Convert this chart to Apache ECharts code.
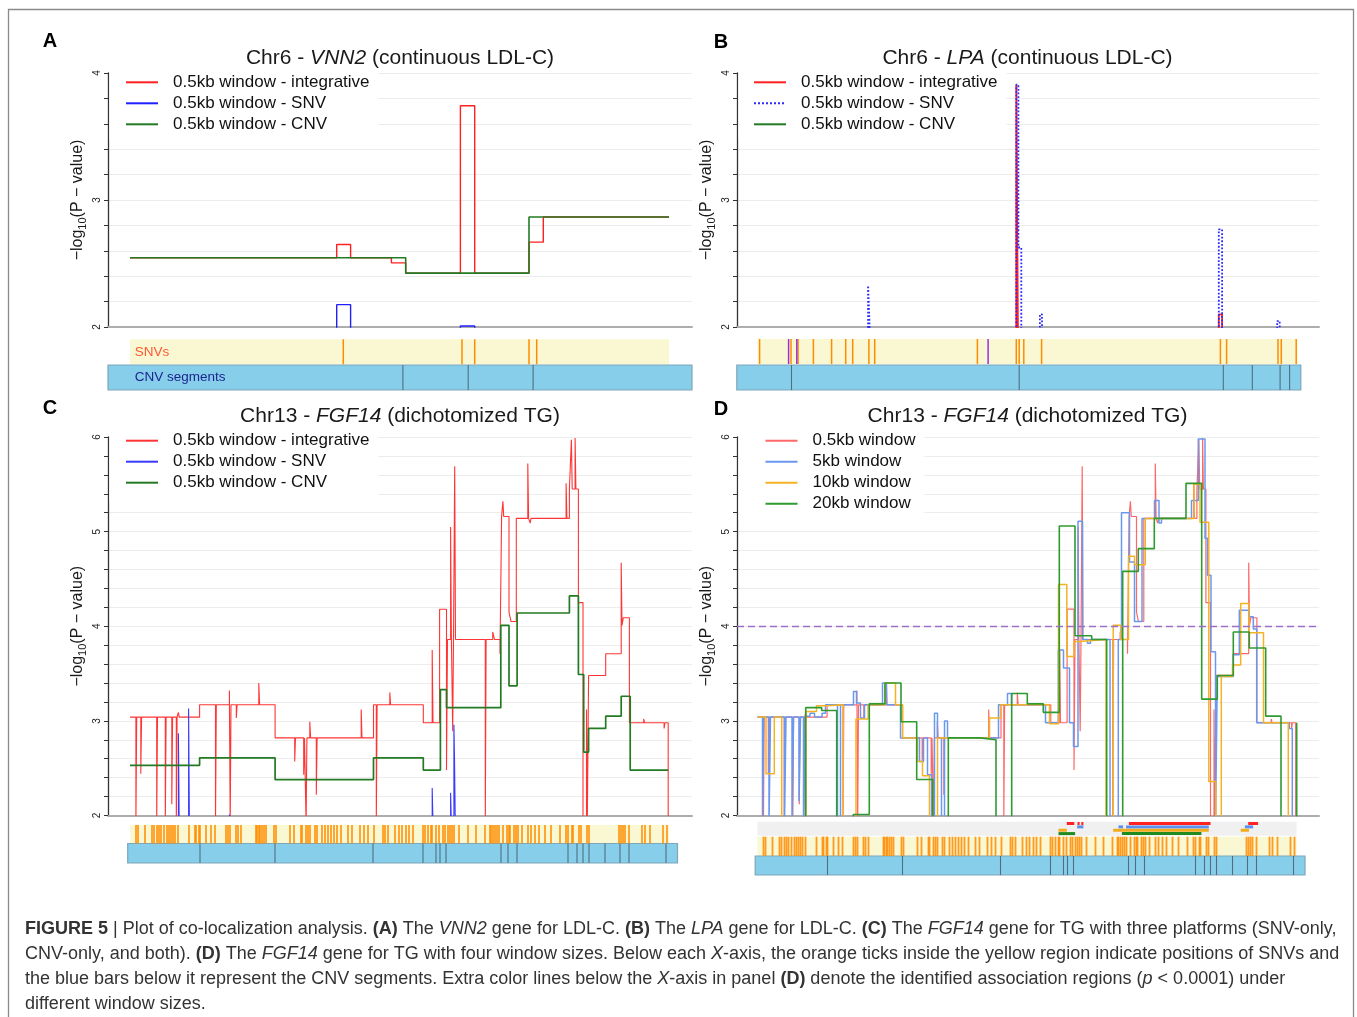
<!DOCTYPE html>
<html><head><meta charset="utf-8">
<script src="https://cdn.jsdelivr.net/npm/echarts@6/dist/echarts.min.js"></script>
<style>html,body{margin:0;padding:0;background:#fff}#c{width:1357px;height:1017px}</style>
</head><body><div id="c"></div>
<script>
// value used for points that fall below the plotted range (-log10 p < 2); clipped by the grid
const OFF = 1.9;

// ---------- Panel A: Chr6 - VNN2 (positions relative to SNV track start) ----------
const aIntegrative = [[0,2.545],[206.7,2.65],[220.6,2.545],[261.4,2.505],[275.7,2.424],[330.4,3.742],[344.7,2.424],[399,2.668],[413.3,2.866],[539,2.866]];
const aSNV = [[0,OFF],[206.7,2.176],[220.6,OFF],[330.4,2.008],[344.7,OFF],[539,OFF]];
const aCNV = [[0,2.545],[275.7,2.424],[399,2.866],[539,2.866]];
const snvA = [213.3, 332, 344.7, 399, 406.7];
const cnvBreaksA = [272.9, 338.2, 403.1];
const snvSpanA = [0, 539], cnvSpanA = [-22, 562];

// ---------- Panel B: Chr6 - LPA ----------
const bIntegrative = [[0,OFF],[258.8,3.908],[260.5,OFF],[461.3,2.10],[464.6,OFF],[540,OFF]];
const bSNV = [[0,OFF],[110.6,2.326],[112.6,OFF],[258.8,3.908],[260.9,2.626],[263.8,OFF],[282.4,2.10],[284.5,OFF],[461.3,2.768],[464.6,OFF],[519.7,2.047],[522.2,OFF],[540,OFF]];
const bCNV = [];
const snvB = [2.1, 33.5, 40.6, 55.9, 74.1, 88.2, 95.2, 111.4, 117.2, 219.9, 258.8, 261.7, 266.3, 284.1, 462.9, 469.1, 520.5, 523.8, 538.7];
const snvBPurple = [31.1, 39.3, 230.6];
const cnvBreaksB = [34, 261.7, 465.8, 494.8, 522.6, 532.1];
const snvSpanB = [0, 540], cnvSpanB = [-20.7, 543.3];

// ---------- Panels C & D: Chr13 - FGF14 ----------
const cIntegrative = [
 [0,3.04],[5.9,OFF],[6.7,3.04],[10.8,2.44],[11.6,3.04],[26.7,OFF],[27.5,3.04],[35.3,OFF],[36.1,3.04],[41.8,2.12],[42.6,3.04],[46.3,OFF],[47.1,3.04],[48.4,3.09],[49.2,3.04],
 [69.6,3.17],[85.5,OFF],[86.3,3.17],[99.4,3.32],[100.2,OFF],[101,3.17],[106.3,3.03],[107.1,3.17],[128.8,3.40],[129.6,3.17],
 [145.1,2.82],[164.7,2.57],[165.5,2.82],[173.7,2.43],[174.5,2.82],[176.1,OFF],[176.9,2.82],[179.8,2.99],[180.6,2.82],[186.3,2.22],[187.1,2.82],[231.2,3.12],[232,2.82],
 [243.5,3.17],[246.3,OFF],[247.1,3.17],[259.8,3.30],[260.6,3.17],
 [293.3,2.98],[302.2,3.75],[303,2.98],[309.6,4.18],[316.5,2.48],[317.5,3.86],[320.6,5.05],[321.4,3.86],[322.7,2.89],[323.5,3.86],[324.7,5.69],[325.5,3.86],
 [355.3,OFF],[356.1,3.86],[362.7,3.94],[364.5,3.86],[370,3.71],[371.6,5.16],[372.9,5.32],[373.7,5.16],[379,4.15],[381,4.05],[386.3,5.14],
 [397.8,5.72],[398.6,5.14],[400.2,5.09],[401,5.14],[436.1,5.51],[436.9,5.14],[439.4,5.45],[441.4,5.97],[442.2,5.45],[445.1,5.99],[445.9,5.45],
 [448.4,4.25],[453,OFF],[456.5,3.12],[457.3,OFF],[458.6,3.48],[475.7,3.71],[491.2,4.67],[492,4.01],[493.3,4.09],[499.4,2.98],[513.7,3.02],[514.5,2.98],[534.1,2.92],[534.9,2.98],[538.2,OFF]
];
const cSNV = [[0,OFF],[48.4,2.87],[49.2,OFF],[58.6,3.13],[59.4,OFF],[99.4,2.01],[100.6,OFF],[302.2,2.29],[303,OFF],[320.6,2.24],[321.4,OFF],[323.9,2.96],[324.5,2.61],[325.3,OFF],[538.2,OFF]];
const cCNV = [[0,2.53],[69.6,2.61],[145.1,2.38],[243.5,2.61],[293.3,2.48],[310.4,3.33],[316.5,3.14],[370.8,4.01],[379,3.37],[387.1,4.14],[439.4,4.32],[448.4,3.49],[453.7,2.67],[458.6,2.92],[475.7,3.05],[491.2,3.26],[500.2,2.48],[538.2,2.48]];

const dWin05 = cIntegrative;
const dWin5 = [[0,3.04],[5,OFF],[6,3.04],[11.5,OFF],[13,3.04],[27,OFF],[28.5,3.04],[34.5,OFF],[36,3.04],[41.5,2.15],[43,3.04],[46,OFF],[48,3.05],[52.5,3.08],[57,3.04],[64.5,3.08],[68,3.17],[80,OFF],[83,3.17],[96,3.31],[99,3.19],[103,3.03],[107,3.17],[125,3.40],[129,3.17],[143,2.82],[162,2.57],[166,2.82],[170,2.43],[174,OFF],[177,3.08],[180,2.82],[184,OFF],[187,3.00],[190,2.82],[241,3.17],[250,3.29],[254,3.17],[288,2.98],[300.8,3.75],[306,3.56],[312,2.98],[316,2.73],[320.5,5.11],[325,3.86],[330,3.82],[333,3.86],[352.5,OFF],[360.8,3.86],[364,5.2],[372,4.68],[377,4.05],[384.5,5.14],[397,5.33],[401.5,5.09],[404,5.14],[434,5.33],[440.8,5.98],[447.5,4.93],[450,4.54],[453.5,3.73],[458,OFF],[459.8,3.47],[475.8,3.70],[481.8,4.17],[491.8,4.10],[495.8,3.97],[499.2,2.98],[531.8,2.92],[534.8,OFF]];
const dWin10 = [[0,3.04],[8.5,2.44],[16.8,3.04],[24.2,OFF],[48.5,3.10],[59,3.16],[70,3.17],[85.7,OFF],[98.5,3.02],[110.6,3.17],[127.5,3.40],[138,3.17],[145,2.82],[160,2.57],[165,2.42],[172,OFF],[180,2.82],[232,3.03],[243,3.17],[292,2.97],[301,4.44],[309.3,3.68],[316.5,3.84],[322,3.86],[348.5,OFF],[355.7,4.01],[363.2,3.86],[371,4.74],[377,4.65],[387.8,5.14],[436.5,5.5],[442.5,5.1],[451.3,2.36],[458.4,OFF],[463.8,3.47],[475,3.59],[483.2,4.24],[491.5,3.93],[506,2.98],[530.8,OFF]];
const dWin20 = [[0,OFF],[48.2,3.14],[64.2,3.11],[79.2,OFF],[95.8,2.01],[111.8,3.18],[127.5,3.40],[143.5,2.99],[159.2,2.38],[175.2,OFF],[190.8,2.82],[222.5,2.80],[238.5,OFF],[254.2,3.29],[269.8,3.18],[285.8,3.09],[301.8,5.06],[317.5,3.90],[334.2,3.86],[349.2,OFF],[365.2,4.58],[380.8,4.82],[396.8,5.14],[428.5,5.51],[444.2,3.23],[459.8,3.48],[475.8,3.94],[491.8,3.77],[508.2,3.05],[523.5,OFF],[539.2,2.98],[539.6,2.98]];
const dThreshold = 4;

const snvCD = [6,8,15,22,24,27,29,31,34,37,39,41,43,45,48,59,65,66,69,70,76,81,85,96,98,100,106,108,111,126,127,129,130,132,134,136,144,146,160,164,171,172,176,178,180,185,187,192,195,198,201,204,207,211,218,222,230,234,238,244,253,255,258,265,269,272,276,279,283,293,295,298,301,302,306,309,313,315,318,320,322,324,329,338,346,355,360,361,363,365,367,369,373,377,379,380,384,386,388,392,398,401,405,409,415,421,430,436,438,442,443,449,451,457,459,489,491,493,495,499,512,515,520,533,537];
const cnvBreaksCD = [70,145,243,293,306,310,316,371,378,387,438,447,453,459,475,490,499,536];
const snvSpanCD = [0, 539], cnvSpanCD = [-2.3, 547.5];
const regionsWin05 = [[309.3,316.8],[320,322.1],[323.8,325.9],[371.4,453],[490.7,500.6]];
const regionsWin5 = [[319.7,325.9],[361,365.6],[368.5,451.3],[487.4,495.6]];
const regionsWin10 = [[301,309.3],[355.7,451.3],[483.2,491.5]];
const regionsWin20 = [[301,317.6],[364.4,443.9]];

// ---------- layout ----------
const F = '"Liberation Sans", Arial, Helvetica, sans-serif';
const P = {
  A:{left:108, width:584, top:73, height:254, xr:[-22,562], ymax:4},
  B:{left:737, width:582, top:73, height:254, xr:[-20.5,561.5], ymax:4},
  C:{left:108, width:584, top:437, height:378.5, xr:[-22,562], ymax:6},
  D:{left:737, width:582, top:437, height:378.5, xr:[-20.5,561.5], ymax:6}
};
const T = {
  A:{snv:[339.3,25], cnv:[365,25]},
  B:{snv:[339,25], cnv:[365,25]},
  C:{snv:[825,18.5], cnv:[843.5,19.5]},
  D:{reg:[821.7,14], snv:[836.7,19.3], cnv:[856,19]}
};
const grids = [], xAxes = [], yAxes = [], series = [], legends = [];

const yName = '{t|\u2212log}{s|10}{t|(P \u2212 value)}';
function mainPanel(key, lines) {
  const p = P[key], gi = grids.length;
  grids.push({left:p.left, top:p.top, width:p.width, height:p.height, outerBoundsMode:'none', containLabel:false});
  xAxes.push({gridIndex:gi, type:'value', min:p.xr[0], max:p.xr[1],
    axisLine:{show:true, onZero:false, lineStyle:{color:'#adadad', width:2}},
    axisTick:{show:false}, axisLabel:{show:false}, splitLine:{show:false}});
  yAxes.push({gridIndex:gi, type:'value', min:2, max:p.ymax, interval:1,
    axisLine:{show:true, onZero:false, lineStyle:{color:'#333', width:1.3}},
    axisTick:{show:true, length:4, lineStyle:{color:'#333'}},
    minorTick:{show:true, splitNumber:5, length:4, lineStyle:{color:'#333'}},
    axisLabel:{rotate:90, fontSize:10, color:'#222', margin:6, fontFamily:F},
    splitLine:{show:true, lineStyle:{color:'#ececec', width:1}},
    minorSplitLine:{show:true, lineStyle:{color:'#ececec', width:1}},
    name:yName, nameLocation:'middle', nameRotate:90, nameGap:20, nameMoveOverlap:false,
    nameTextStyle:{rich:{
      t:{fontSize:16, fontFamily:F, color:'#1a1a1a', lineHeight:20},
      s:{fontSize:11, fontFamily:F, color:'#1a1a1a', lineHeight:20, verticalAlign:'bottom'}
    }}});
  lines.forEach(l => series.push({type:'line', name:l.name, data:l.data, xAxisIndex:gi, yAxisIndex:gi,
    step:'end', symbol:'none', showSymbol:false, color:l.color, clip:true,
    lineStyle:{color:l.color, width:l.width, type:l.type||'solid', opacity:l.opacity==null?1:l.opacity},
    animation:false, silent:true, z:l.z||2, markLine:l.markLine}));
  return gi;
}
function trackGrid(key, band) {
  const p = P[key], gi = grids.length;
  grids.push({left:p.left, top:band[0], width:p.width, height:band[1], outerBoundsMode:'none', containLabel:false});
  xAxes.push({gridIndex:gi, type:'value', min:p.xr[0], max:p.xr[1], show:false});
  yAxes.push({gridIndex:gi, type:'value', min:0, max:1, show:false});
  return gi;
}
function bandItem(fill, stroke) {
  return function(params, api) {
    const cs = params.coordSys;
    const x0 = api.coord([api.value(0), 0])[0], x1 = api.coord([api.value(2), 0])[0];
    return {type:'rect', shape:{x:x0, y:cs.y, width:x1-x0, height:cs.height},
      style:{fill:fill, stroke:stroke||null, lineWidth:stroke?1.2:0}};
  };
}
function tickItem(color, width, opacity) {
  return function(params, api) {
    const cs = params.coordSys;
    const x = api.coord([api.value(0), 0])[0];
    return {type:'line', shape:{x1:x, y1:cs.y, x2:x, y2:cs.y+cs.height},
      style:{stroke:color, lineWidth:width, opacity:opacity}};
  };
}
function regionItem(color, frac) {
  return function(params, api) {
    const cs = params.coordSys;
    const x0 = api.coord([api.value(0), 0])[0], x1 = api.coord([api.value(2), 0])[0];
    const y = cs.y + frac*cs.height;
    return {type:'line', shape:{x1:x0, y1:y, x2:x1, y2:y}, style:{stroke:color, lineWidth:3}};
  };
}
function custom(gi, data, render, z) {
  series.push({type:'custom', xAxisIndex:gi, yAxisIndex:gi, data:data, renderItem:render, silent:true, animation:false, z:z||2});
}
function tracks(key, snv, snvSpan, cnvBreaks, cnvSpan, opt) {
  const t = T[key];
  const gs = trackGrid(key, t.snv);
  custom(gs, [[snvSpan[0], 0, snvSpan[1]]], bandItem('#faf8d2'), 1);
  custom(gs, snv.map(v => [v, 0]), tickItem('#ff8c00', opt.tickW, opt.tickO), 3);
  if (opt.purple) custom(gs, opt.purple.map(v => [v, 0]), tickItem('#9b30d9', opt.tickW, 1), 4);
  const gc = trackGrid(key, t.cnv);
  custom(gc, [[cnvSpan[0], 0, cnvSpan[1]]], bandItem('#87ceeb', '#7fa6b8'), 1);
  custom(gc, cnvBreaks.map(v => [v, 0]), tickItem('#4f6f7f', 1.1, 1), 3);
}

// ---------- main panels ----------
const nA = ['A|0.5kb window - integrative','A|0.5kb window - SNV','A|0.5kb window - CNV'];
const nB = ['B|0.5kb window - integrative','B|0.5kb window - SNV','B|0.5kb window - CNV'];
const nC = ['C|0.5kb window - integrative','C|0.5kb window - SNV','C|0.5kb window - CNV'];
const nD = ['D|0.5kb window','D|5kb window','D|10kb window','D|20kb window'];

mainPanel('A', [
  {name:nA[0], data:aIntegrative, color:'#ff2020', width:1.4},
  {name:nA[1], data:aSNV, color:'#2020ff', width:1.4},
  {name:nA[2], data:aCNV, color:'#237a23', width:1.6}
]);
mainPanel('B', [
  {name:nB[0], data:bIntegrative, color:'#ff2020', width:1.8},
  {name:nB[1], data:bSNV, color:'#2a2aff', width:1.8, type:'dotted'},
  {name:nB[2], data:bCNV, color:'#237a23', width:1.6}
]);
mainPanel('C', [
  {name:nC[0], data:cIntegrative, color:'#ff3535', width:1.1},
  {name:nC[1], data:cSNV, color:'#3a3aff', width:1.1},
  {name:nC[2], data:cCNV, color:'#237a23', width:1.7}
]);
mainPanel('D', [
  {name:nD[0], data:dWin05, color:'#ff4d4d', width:1.2, opacity:0.85,
   markLine:{silent:true, symbol:['none','none'], label:{show:false}, animation:false,
     lineStyle:{type:[7,4], color:'#9c6fc6', width:1.3}, data:[{yAxis:dThreshold}]}},
  {name:nD[1], data:dWin5, color:'#6a98ee', width:1.5},
  {name:nD[2], data:dWin10, color:'#f4b325', width:1.5},
  {name:nD[3], data:dWin20, color:'#2f9a2f', width:1.6}
]);

// ---------- tracks ----------
tracks('A', snvA, snvSpanA, cnvBreaksA, cnvSpanA, {tickW:1.5, tickO:1});
tracks('B', snvB, snvSpanB, cnvBreaksB, cnvSpanB, {tickW:1.5, tickO:1, purple:snvBPurple});
tracks('C', snvCD, snvSpanCD, cnvBreaksCD, cnvSpanCD, {tickW:1.8, tickO:0.85});
const gr = trackGrid('D', T.D.reg);
custom(gr, [[snvSpanCD[0], 0, snvSpanCD[1]]], bandItem('#f0f0f0'), 1);
custom(gr, regionsWin05.map(r => [r[0], 0, r[1]]), regionItem('#ff2222', 0.13), 3);
custom(gr, regionsWin5.map(r => [r[0], 0, r[1]]), regionItem('#5b8ff0', 0.37), 3);
custom(gr, regionsWin10.map(r => [r[0], 0, r[1]]), regionItem('#f2ac1c', 0.61), 3);
custom(gr, regionsWin20.map(r => [r[0], 0, r[1]]), regionItem('#1f8a1f', 0.85), 3);
tracks('D', snvCD, snvSpanCD, cnvBreaksCD, cnvSpanCD, {tickW:1.8, tickO:0.85});

// ---------- legends ----------
function legend(names, left, top, pad) {
  return {orient:'vertical', left:left, top:top, padding:pad, backgroundColor:'#fff',
    itemWidth:32, itemHeight:14, itemGap:0, selectedMode:false, data:names,
    formatter: n => n.split('|')[1], z:10,
    itemStyle:{opacity:0, borderWidth:0},
    textStyle:{fontSize:17, lineHeight:21, color:'#111', fontFamily:F, padding:[0,0,0,10]}};
}
legends.push(legend(nA, 109.5, 68.8, [3,9,5,15.5]));
legends.push(legend(nB, 738.5, 68.8, [3,9,5,14.5]));
legends.push(legend(nC, 109.5, 427.2, [3,9,8,15.5]));
legends.push(legend(nD, 738.5, 427.2, [3,9,6,26]));

// ---------- titles ----------
function title(text, cx, top) {
  return {text:text, left:cx, top:top, textAlign:'center', padding:0,
    textStyle:{fontSize:21, fontWeight:'normal', color:'#1a1a1a', fontFamily:F,
      rich:{i:{fontStyle:'italic', fontSize:21, fontFamily:F, color:'#1a1a1a'}}}};
}
const titles = [
  title('Chr6 - {i|VNN2} (continuous LDL-C)', 400, 48),
  title('Chr6 - {i|LPA} (continuous LDL-C)', 1027.5, 48),
  title('Chr13 - {i|FGF14} (dichotomized TG)', 400, 406),
  title('Chr13 - {i|FGF14} (dichotomized TG)', 1027.5, 406)
];

// ---------- caption & decorations ----------
const captionLines = [
 '{b|FIGURE 5} | Plot of co-localization analysis. {b|(A)} The {i|VNN2} gene for LDL-C. {b|(B)} The {i|LPA} gene for LDL-C. {b|(C)} The {i|FGF14} gene for TG with three platforms (SNV-only,',
 'CNV-only, and both). {b|(D)} The {i|FGF14} gene for TG with four window sizes. Below each {i|X}-axis, the orange ticks inside the yellow region indicate positions of SNVs and',
 'the blue bars below it represent the CNV segments. Extra color lines below the {i|X}-axis in panel {b|(D)} denote the identified association regions ({i|p} < 0.0001) under',
 'different window sizes.'
];
const capStyle = {fontSize:18, fontFamily:F, fill:'#333'};
const graphics = [
  {type:'rect', shape:{x:8.5, y:9.5, width:1345, height:1040}, style:{fill:'transparent', stroke:'#8a8a8a', lineWidth:1.3}, silent:true, z:0},
  {type:'text', x:25, y:916.5, silent:true, z:50, style:Object.assign({text:captionLines.join('\n'), lineHeight:25,
    rich:{b:Object.assign({fontWeight:'bold', lineHeight:25}, capStyle), i:Object.assign({fontStyle:'italic', lineHeight:25}, capStyle)}}, capStyle)},
  {type:'text', x:50, y:41, z:50, silent:true, style:{text:'A', fontSize:20, fontWeight:'bold', fontFamily:F, fill:'#000', align:'center', verticalAlign:'middle'}},
  {type:'text', x:721, y:42, z:50, silent:true, style:{text:'B', fontSize:20, fontWeight:'bold', fontFamily:F, fill:'#000', align:'center', verticalAlign:'middle'}},
  {type:'text', x:50, y:408, z:50, silent:true, style:{text:'C', fontSize:20, fontWeight:'bold', fontFamily:F, fill:'#000', align:'center', verticalAlign:'middle'}},
  {type:'text', x:721, y:409, z:50, silent:true, style:{text:'D', fontSize:20, fontWeight:'bold', fontFamily:F, fill:'#000', align:'center', verticalAlign:'middle'}},
  {type:'text', x:134.7, y:352, z:50, silent:true, style:{text:'SNVs', fontSize:13.5, fontFamily:F, fill:'#ff5733', align:'left', verticalAlign:'middle'}},
  {type:'text', x:134.7, y:377.7, z:50, silent:true, style:{text:'CNV segments', fontSize:13.5, fontFamily:F, fill:'#1c2690', align:'left', verticalAlign:'middle'}}
];

const chart = echarts.init(document.getElementById('c'), null, {renderer:'canvas'});
chart.setOption({
  backgroundColor:'#ffffff',
  animation:false,
  title:titles,
  legend:legends,
  grid:grids,
  xAxis:xAxes,
  yAxis:yAxes,
  series:series,
  graphic:graphics
});
</script></body></html>
